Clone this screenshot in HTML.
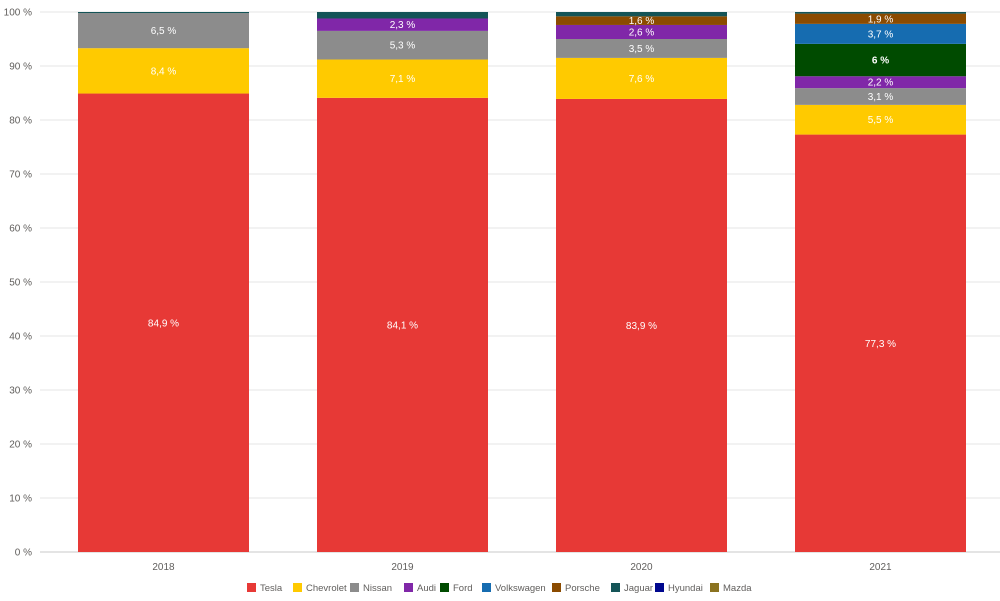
<!DOCTYPE html>
<html><head><meta charset="utf-8"><style>
html,body{margin:0;padding:0;background:#fff;}
svg{display:block;font-family:"Liberation Sans","DejaVu Sans",sans-serif;}
</style></head><body>
<svg id="chart" width="1000" height="601"></svg>
<script>
const years = ["2018","2019","2020","2021"];
const brands = ["Tesla","Chevrolet","Nissan","Audi","Ford","Volkswagen","Porsche","Jaguar","Hyundai","Mazda"];
const colors = ["#E73936","#FFCA00","#8C8C8C","#8027A8","#004B00","#166CB0","#8B4B00","#145457","#00078E","#8B7320"];
const tesla = [84.9,84.1,83.9,77.3];
const chevrolet = [8.4,7.1,7.6,5.5];
const nissan = [6.5,5.3,3.5,3.1];
const audi = [0,2.3,2.6,2.2];
const ford = [0,0,0,6];
const volkswagen = [0,0,0,3.7];
const porsche = [0,0,1.6,1.9];
const jaguar = [0.2,1.2,0.8,0.3];
const hyundai = [0,0,0,0];
const mazda = [0,0,0,0];
const yTicks = [0,10,20,30,40,50,60,70,80,90,100];
const series = [tesla,chevrolet,nissan,audi,ford,volkswagen,porsche,jaguar,hyundai,mazda];

const NS="http://www.w3.org/2000/svg";
const svg=document.getElementById('chart');
const x0=44,x1=1000,y0=552,y1=12;
const band=(x1-x0)/years.length, barW=171;
const yS=v=>y0-(v/100)*(y0-y1);
const xS=i=>x0+band*i+(band-barW)/2;
function mk(t,a){const e=document.createElementNS(NS,t);for(const k in a)e.setAttribute(k,a[k]);svg.appendChild(e);return e;}
const fmt=v=>(Math.round(v*10)/10).toString().replace('.',',')+' %';

yTicks.forEach(t=>{
  const g=mk('line',{x1:40,x2:x1,y1:yS(t),y2:yS(t),stroke:t===0?'#c8c8c8':'#e6e6e6','stroke-width':1});
  
  
  const l=mk('text',{x:32,y:yS(t)+3.5,'text-anchor':'end','font-size':'10',fill:'#605E5C'});
  l.textContent=t+' %';
  
  
});

years.forEach((yr,i)=>{
  let acc=0;
  series.forEach((s,k)=>{
    const v=s[i]; if(!v) return;
    const top=yS(acc+v), bot=yS(acc);
    const r=mk('rect',{x:xS(i),y:top,width:barW,height:bot-top,fill:colors[k]});
    
    
    if(v>=1.5){
      const t=mk('text',{x:xS(i)+barW/2,y:(top+bot)/2+3.5,'text-anchor':'middle','font-size':'10',fill:'#fff'});
      t.textContent=fmt(v);
      if(brands[k]==='Ford') t.setAttribute('font-weight','bold');
      
      
    }
    acc+=v;
  });
  const xl=mk('text',{x:xS(i)+barW/2,y:570,'text-anchor':'middle','font-size':'10',fill:'#605E5C'});
  xl.textContent=yr;
  
  
});

const legX=[247,293,350,404,440,482,552,611,655,710];
brands.forEach((b,k)=>{
  const r=mk('rect',{x:legX[k],y:583,width:9,height:9,fill:colors[k]});
  
  
  const t=mk('text',{x:legX[k]+13,y:591,'font-size':'9.5',fill:'#605E5C'});
  t.textContent=b;
  
  
});
</script>
</body></html>
